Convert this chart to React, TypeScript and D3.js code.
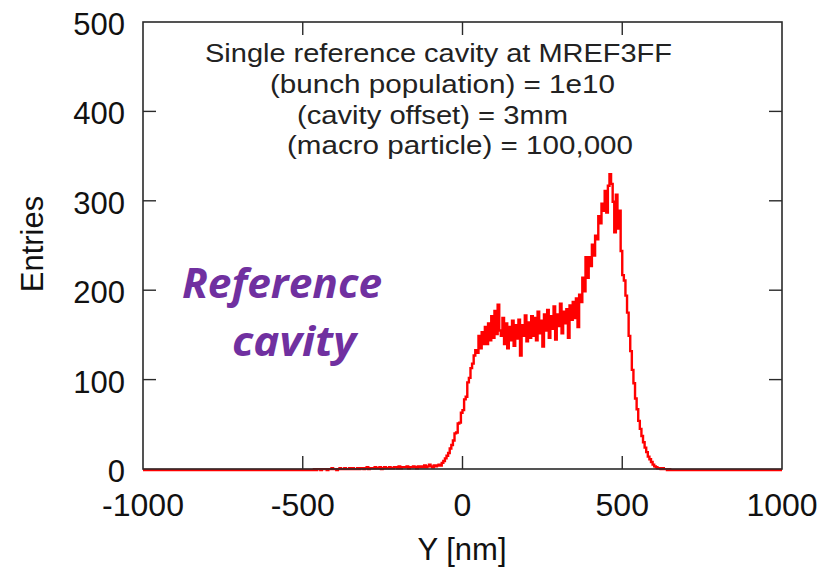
import React from "react";
import * as d3 from "d3";

// Histogram: entries per bin, bins of 5 nm starting at -480 nm (zero elsewhere)
const binStart = -480;
const binWidth = 5;
const entries: number[] = [
  0, 0, 0, 1, 0, 1, 1, 0, 1, 1,
  1, 0, 1, 1, 2, 1, 1, 0, 1, 2,
  1, 1, 2, 1, 1, 2, 1, 2, 1, 1,
  2, 1, 2, 2, 1, 2, 3, 1, 2, 2,
  2, 3, 2, 2, 3, 1, 2, 3, 2, 2,
  3, 2, 2, 3, 3, 2, 4, 2, 3, 3,
  3, 4, 2, 3, 3, 4, 3, 2, 4, 3,
  4, 3, 5, 3, 4, 6, 4, 3, 5, 4,
  5, 6, 5, 8, 10, 13, 16, 19, 24, 28,
  33, 41, 42, 52, 53, 64, 67, 79, 82, 98,
  103, 114, 119, 128, 134, 131, 150, 136, 154, 141,
  160, 141, 164, 145, 172, 148, 178, 152, 185, 156,
  150, 170, 141, 164, 136, 160, 145, 167, 139, 162,
  147, 168, 128, 162, 150, 173, 144, 165, 148, 172,
  150, 170, 145, 177, 153, 167, 138, 174, 156, 179,
  148, 172, 158, 183, 146, 174, 161, 186, 153, 177,
  164, 180, 148, 184, 168, 188, 170, 192, 160, 196,
  188, 215, 200, 238, 215, 238, 228, 252, 240, 262,
  258, 284, 276, 298, 290, 312, 288, 318, 331, 320,
  300, 266, 308, 270, 290, 245, 218, 212, 195, 176,
  150, 133, 112, 97, 80, 68, 55, 46, 38, 31,
  25, 20, 15, 12, 9, 6, 4, 3, 2, 2,
  1, 2, 1, 1, 0, 1,
];

const xTicks = [-1000, -500, 0, 500, 1000];
const yTicks = [0, 100, 200, 300, 400, 500];
const annotation = [
  "Single reference cavity at MREF3FF",
  "(bunch population) = 1e10",
  "(cavity offset) = 3mm",
  "(macro particle) = 100,000",
];
const annoX = [205, 270, 297, 287];
const annoW = [467, 345, 271, 346];

export default function App() {
  const x = d3.scaleLinear().domain([-1000, 1000]).range([143, 782]);
  const y = d3.scaleLinear().domain([0, 500]).range([469, 22]);

  const pts: [number, number][] = [[-1000, 0]];
  entries.forEach((v, i) => pts.push([binStart + i * binWidth, v]));
  pts.push([binStart + entries.length * binWidth, 0]);
  pts.push([1000, 0]);
  const line = d3
    .line<[number, number]>()
    .x((d) => x(d[0]))
    .y((d) => y(d[1]))
    .curve(d3.curveStepAfter);

  const axisFont = "'Liberation Sans', Arial, sans-serif";
  const frameColor = "#2a2a2a";
  const tickLen = 13;

  return (
    <svg
      width={825}
      height={567}
      style={{ position: "absolute", left: 0, top: 0, background: "#fff" }}
    >
      <rect x={0} y={0} width={825} height={567} fill="#fff" />
      {/* histogram */}
      <path
        d={line(pts) || ""}
        fill="none"
        stroke="#ff0000"
        strokeWidth={2.4}
        strokeLinejoin="miter"
        transform="translate(0,1)"
      />
      {/* frame */}
      <rect
        x={x(-1000)}
        y={y(500)}
        width={x(1000) - x(-1000)}
        height={y(0) - y(500)}
        fill="none"
        stroke={frameColor}
        strokeWidth={1.6}
      />
      {/* x ticks */}
      {xTicks.slice(1, -1).map((t) => (
        <g key={"xt" + t}>
          <line x1={x(t)} x2={x(t)} y1={y(0)} y2={y(0) - tickLen} stroke={frameColor} strokeWidth={1.4} />
          <line x1={x(t)} x2={x(t)} y1={y(500)} y2={y(500) + tickLen} stroke={frameColor} strokeWidth={1.4} />
        </g>
      ))}
      {/* y ticks */}
      {yTicks.slice(1, -1).map((t) => (
        <g key={"yt" + t}>
          <line x1={x(-1000)} x2={x(-1000) + tickLen} y1={y(t)} y2={y(t)} stroke={frameColor} strokeWidth={1.4} />
          <line x1={x(1000)} x2={x(1000) - tickLen} y1={y(t)} y2={y(t)} stroke={frameColor} strokeWidth={1.4} />
        </g>
      ))}
      {/* x labels */}
      {xTicks.map((t) => (
        <text
          key={"xl" + t}
          x={x(t)}
          y={516}
          textAnchor="middle"
          fontFamily={axisFont}
          fontSize={32}
          fill="#111"
        >
          {t}
        </text>
      ))}
      {/* y labels */}
      {yTicks.map((t) => (
        <text
          key={"yl" + t}
          x={125}
          y={y(t) + 13}
          textAnchor="end"
          fontFamily={axisFont}
          fontSize={31}
          fill="#111"
        >
          {t}
        </text>
      ))}
      {/* axis titles */}
      <text x={462} y={560} textAnchor="middle" fontFamily={axisFont} fontSize={31} fill="#111">
        Y [nm]
      </text>
      <text
        transform="translate(43,244) rotate(-90)"
        textAnchor="middle"
        fontFamily={axisFont}
        fontSize={31}
        fill="#111"
      >
        Entries
      </text>
      {/* annotation */}
      {annotation.map((s, i) => (
        <text
          key={"an" + i}
          x={annoX[i]}
          y={62 + i * 30.8}
          fontFamily={axisFont}
          fontSize={25}
          fill="#222"
          textLength={annoW[i]}
          lengthAdjust="spacingAndGlyphs"
        >
          {s}
        </text>
      ))}
      {/* purple label */}
      <text
        x={182}
        y={298}
        fontFamily="'Open Sans', 'Noto Sans', sans-serif"
        fontStyle="italic"
        fontWeight={700}
        fontSize={42}
        fill="#7030A0"
        textLength={200}
        lengthAdjust="spacingAndGlyphs"
      >
        Reference
      </text>
      <text
        x={232}
        y={356}
        fontFamily="'Open Sans', 'Noto Sans', sans-serif"
        fontStyle="italic"
        fontWeight={700}
        fontSize={42}
        fill="#7030A0"
        textLength={124}
        lengthAdjust="spacingAndGlyphs"
      >
        cavity
      </text>
    </svg>
  );
}
